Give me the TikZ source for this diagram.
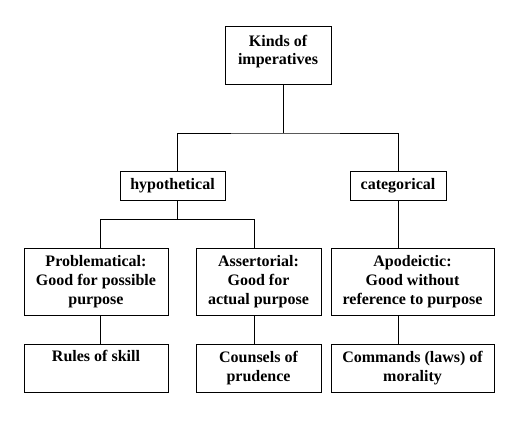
\documentclass[tikz,border=0pt]{standalone}
\usepackage{fontspec}
\setmainfont{Liberation Serif}
\begin{document}
\begin{tikzpicture}[x=0.75pt,y=-0.75pt,
  box/.style={draw, line width=0.75pt, inner sep=0pt, align=center,
    font=\fontsize{12}{14}\selectfont\bfseries},
  sz/.style 2 args={minimum width=#1*0.75pt, minimum height=#2*0.75pt},
  conn/.style={line width=0.75pt}]
\useasboundingbox (0,0) rectangle (523,424);
\node[box, sz={106}{58}, text depth=9.4pt] (top) at (278,56) {Kinds of\\imperatives};
\node[box, sz={105}{29}] (hyp) at (172.5,185.5) {hypothetical};
\node[box, sz={96}{29}] (cat) at (398,185.5) {categorical};
\node[box, sz={144}{67}] (prob) at (96,281.5) {Problematical:\\Good for possible\\purpose};
\node[box, sz={125}{67}] (asse) at (258.5,281.5) {Assertorial:\\Good for\\actual purpose};
\node[box, sz={163}{67}] (apod) at (412.5,281.5) {Apodeictic:\\Good without\\reference to purpose};
\node[box, sz={144}{48}] (rules) at (96,368) {Rules of skill\\\strut};
\node[box, sz={125}{48}] (couns) at (258.5,368) {Counsels of\\prudence};
\node[box, sz={163}{48}] (comm) at (412.5,368) {Commands (laws) of\\morality};
\coordinate (jTop) at (283,133);
\coordinate (jHyp) at (177,219);
\coordinate (jP) at (100,219);
\coordinate (jS) at (254,219);
\draw[conn] (top.south -| jTop) -- (jTop);
\draw[conn] (hyp.north -| jHyp) |- (jTop) -| (cat.north);
\draw[conn] (hyp.south -| jHyp) -- (jHyp);
\draw[conn] (prob.north -| jP) -- (jP) -- (jS) -- (asse.north -| jS);
\draw[conn] (cat.south) -- (cat.south |- apod.north);
\draw[conn] (prob.south -| jP) -- (rules.north -| jP);
\draw[conn] (asse.south -| jS) -- (couns.north -| jS);
\draw[conn] (apod.south -| cat.south) -- (comm.north -| cat.south);
\end{tikzpicture}
\end{document}
